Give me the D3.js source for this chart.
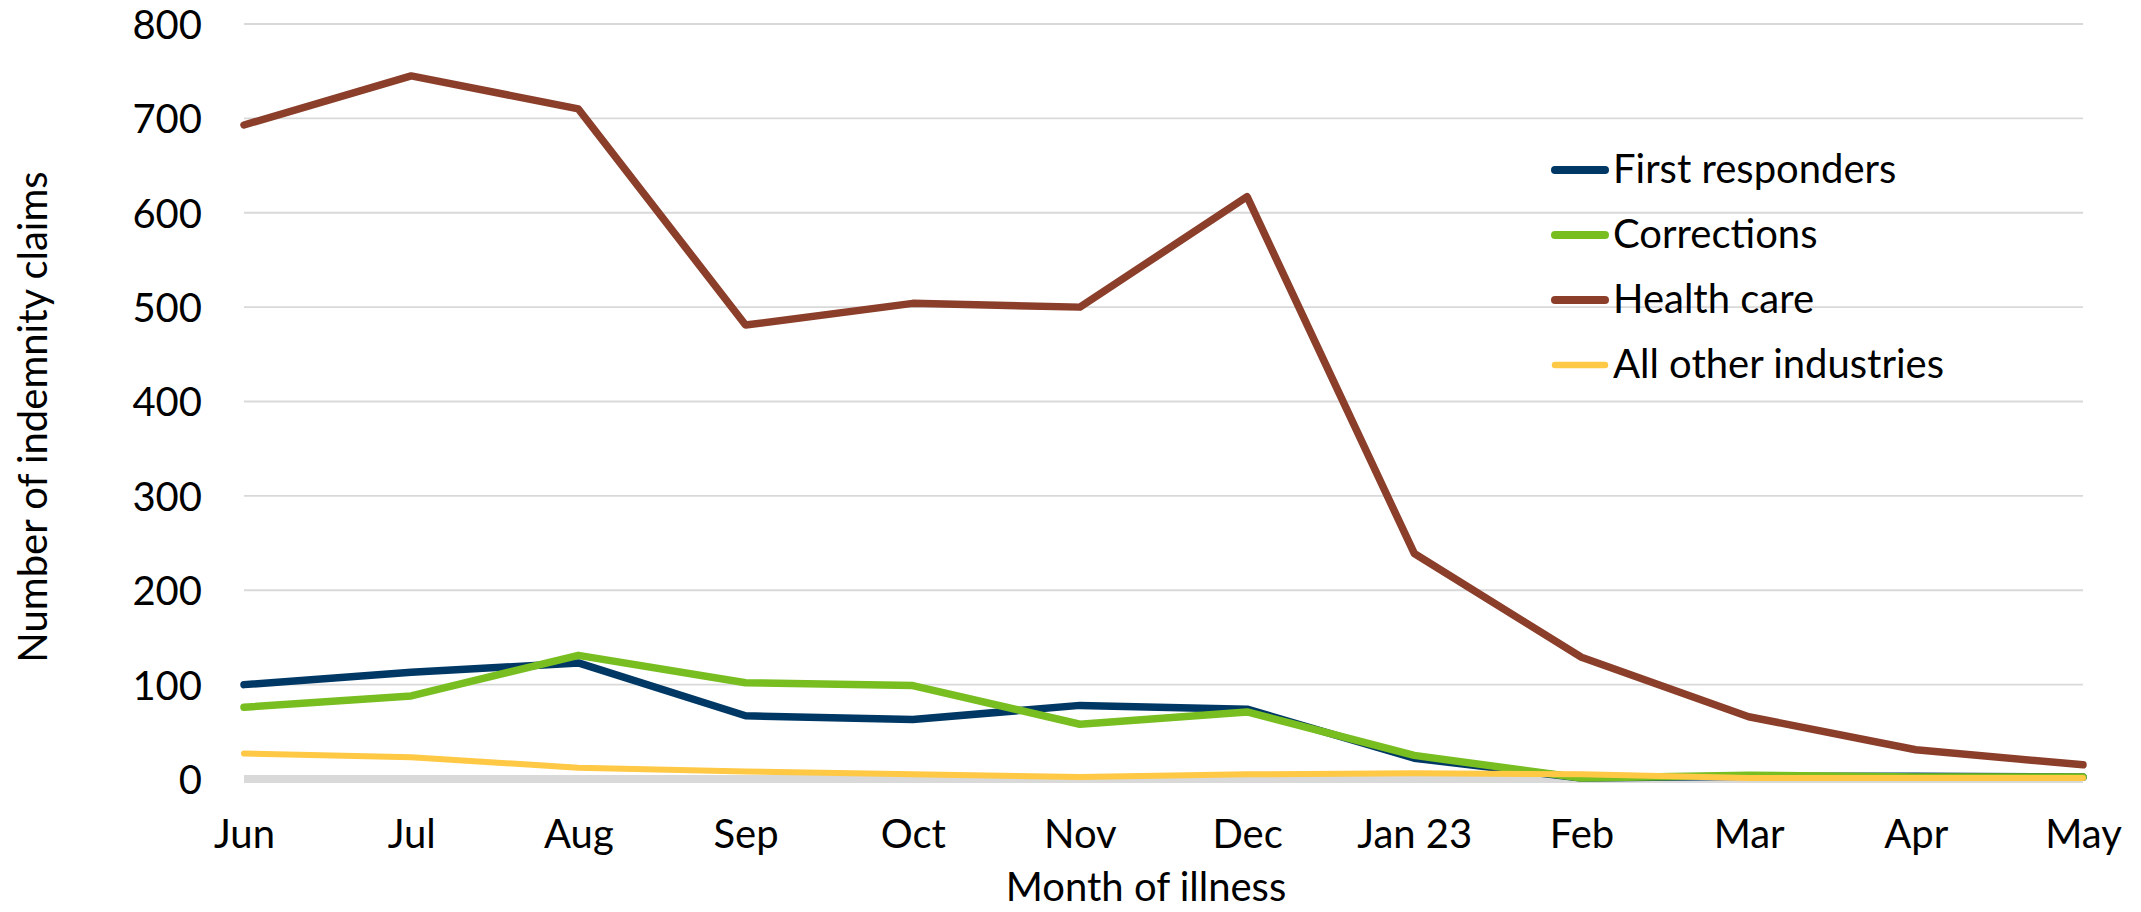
<!DOCTYPE html>
<html>
<head>
<meta charset="utf-8">
<script src="https://cdn.jsdelivr.net/npm/d3@7"></script>
<style>
  html, body { margin: 0; padding: 0; background: #fff; }
  text { font-family: Lato, "Open Sans", sans-serif; fill: #000; }
</style>
</head>
<body>
<div id="mainDiv"></div>
<script>
'use strict';

// data
var months = ['Jun', 'Jul', 'Aug', 'Sep', 'Oct', 'Nov', 'Dec', 'Jan 23', 'Feb', 'Mar', 'Apr', 'May'];
var yTicks = [0, 100, 200, 300, 400, 500, 600, 700, 800];

var firstResponders = [100, 113, 123, 67, 63, 78, 74, 22, 1, 3, 3, 2];
var corrections     = [76, 88, 131, 102, 99, 58, 71, 25, 1, 4, 2, 2];
var healthCare      = [693, 745, 710, 481, 504, 500, 617, 239, 129, 66, 31, 15];
var allOther        = [27, 23, 12, 8, 5, 2, 5, 6, 5, 1, 1, 1];

var seriesNames  = ['First responders', 'Corrections', 'Health care', 'All other industries'];
var seriesValues = [firstResponders, corrections, healthCare, allOther];

var chart = {};

chart.colors = ['#003865', '#78be21', '#8b3e2a', '#ffc845'];
chart.widths = [7.5, 7.5, 7.5, 6];

chart.run = function() {
    var W = 2141, H = 912;
    var left = 244, right = 2083, top = 24, bottom = 779;

    var svg = d3.select('#mainDiv').append('svg')
        .attr('width', W)
        .attr('height', H);

    var x = d3.scalePoint().domain(months).range([left, right]);
    var y = d3.scaleLinear().domain([0, 800]).range([bottom, top]);

    // gridlines
    svg.append('g').selectAll('line')
        .data(yTicks.filter(function(d) { return d > 0; }))
        .enter().append('line')
        .attr('x1', left).attr('x2', right)
        .attr('y1', function(d) { return y(d); })
        .attr('y2', function(d) { return y(d); })
        .attr('stroke', '#d9d9d9')
        .attr('stroke-width', 1.8);

    // axis line at zero (thick grey)
    svg.append('line')
        .attr('x1', left).attr('x2', right)
        .attr('y1', y(0)).attr('y2', y(0))
        .attr('stroke', '#d9d9d9')
        .attr('stroke-width', 8);

    // y axis labels
    var yAxis = d3.axisLeft(y).tickValues(yTicks).tickSize(0).tickPadding(0);
    var gy = svg.append('g').attr('transform', 'translate(202,0)').call(yAxis);
    gy.select('.domain').remove();
    gy.selectAll('text')
        .attr('font-size', 40)
        .attr('dy', '0.36em')
        .style('font-family', 'Lato, sans-serif');

    // x axis labels
    var xAxis = d3.axisBottom(x).tickSize(0).tickPadding(0);
    var gx = svg.append('g').attr('transform', 'translate(0,848)').call(xAxis);
    gx.select('.domain').remove();
    gx.selectAll('text')
        .attr('font-size', 40)
        .attr('dy', 0)
        .attr('y', 0)
        .style('font-family', 'Lato, sans-serif');

    // lines
    var line = d3.line()
        .x(function(d, i) { return x(months[i]); })
        .y(function(d) { return y(d); });

    seriesValues.forEach(function(vals, i) {
        svg.append('path')
            .datum(vals)
            .attr('d', line)
            .attr('fill', 'none')
            .attr('stroke', chart.colors[i])
            .attr('stroke-width', chart.widths[i])
            .attr('stroke-linejoin', 'round')
            .attr('stroke-linecap', 'round');
    });

    // axis titles
    svg.append('text')
        .attr('transform', 'translate(47,417) rotate(-90)')
        .attr('text-anchor', 'middle')
        .attr('font-size', 40)
        .text('Number of indemnity claims');

    svg.append('text')
        .attr('x', 1146).attr('y', 901)
        .attr('text-anchor', 'middle')
        .attr('font-size', 40)
        .text('Month of illness');

    // legend
    var lg = svg.append('g').selectAll('g')
        .data(seriesNames)
        .enter().append('g')
        .attr('transform', function(d, i) { return 'translate(0,' + (170 + i * 65) + ')'; });

    lg.append('line')
        .attr('x1', 1555).attr('x2', 1605)
        .attr('stroke', function(d, i) { return chart.colors[i]; })
        .attr('stroke-width', function(d, i) { return chart.widths[i] + 0.5; })
        .attr('stroke-linecap', 'round');

    lg.append('text')
        .attr('x', 1613).attr('y', 13)
        .attr('font-size', 40)
        .text(function(d) { return d; });
};

window.onload = function() {
    chart.run();
};
</script>
</body>
</html>
